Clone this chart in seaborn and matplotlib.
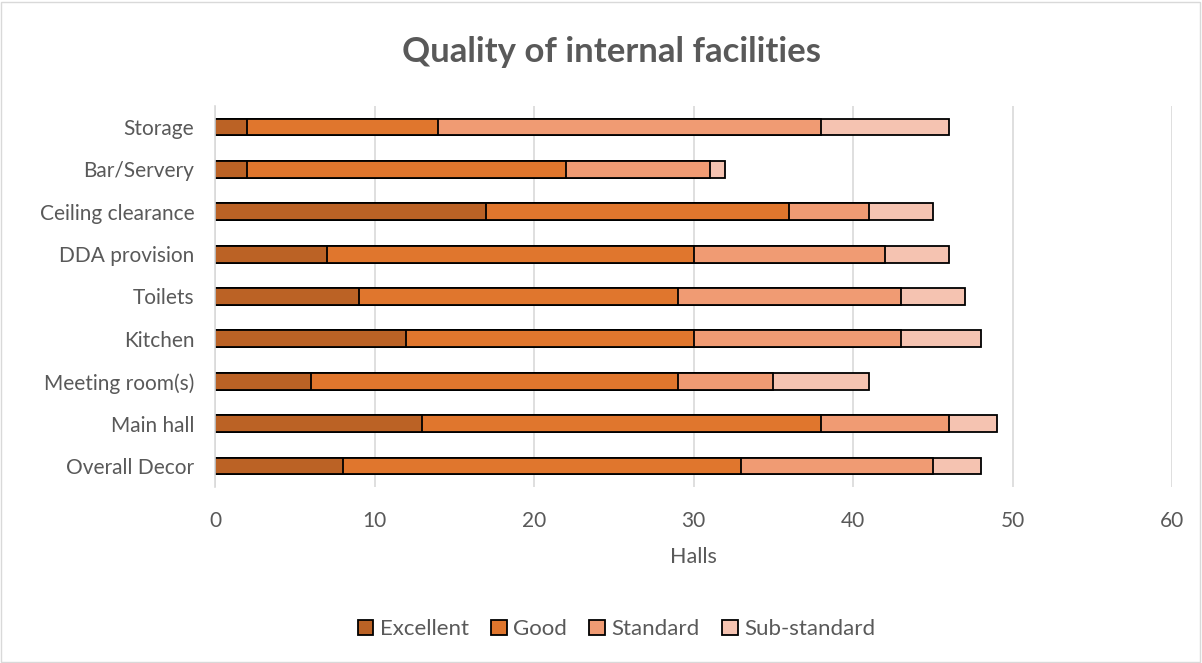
import numpy as np
import pandas as pd
import matplotlib
matplotlib.use("Agg")
import matplotlib.pyplot as plt
from matplotlib.patches import Patch, Rectangle
import seaborn as sns

# Facilities, top to bottom
categories = ["Storage", "Bar/Servery", "Ceiling clearance", "DDA provision",
              "Toilets", "Kitchen", "Meeting room(s)", "Main hall", "Overall Decor"]

excellent = [2, 2, 17, 7, 9, 12, 6, 13, 8]
good = [12, 20, 19, 23, 20, 18, 23, 25, 25]
standard = [24, 9, 5, 12, 14, 13, 6, 8, 12]
sub_standard = [8, 1, 4, 4, 4, 5, 6, 3, 3]

series_names = ["Excellent", "Good", "Standard", "Sub-standard"]
series_colors = ["#BB6225", "#E0762D", "#F09B73", "#F5C3B1"]
x_ticks = [0, 10, 20, 30, 40, 50, 60]

sns.set_theme(style="white")
plt.rcParams["font.family"] = ["Lato", "DejaVu Sans"]
text_color = "#595959"

df = pd.DataFrame({"facility": categories, "Excellent": excellent, "Good": good,
                   "Standard": standard, "Sub-standard": sub_standard})
cum = df[series_names].cumsum(axis=1)

fig = plt.figure(figsize=(12.02, 6.63), dpi=100)
ax = fig.add_axes([0.1789, 0.2652, 0.7962, 0.5752])

# Stacked bars: draw cumulative totals from the outermost segment inward
for name, color in reversed(list(zip(series_names, series_colors))):
    sns.barplot(x=cum[name], y=df["facility"], orient="h", ax=ax, color=color,
                width=0.4, edgecolor="black", linewidth=1.3, saturation=1)

ax.set_xlim(0, 60)
ax.set_xticks(x_ticks)
ax.set_xticklabels([str(t) for t in x_ticks])
ax.grid(axis="x", color="#D9D9D9", linewidth=1.2)
ax.set_axisbelow(True)
for side in ["top", "right", "bottom"]:
    ax.spines[side].set_visible(False)
ax.spines["left"].set_color("#D9D9D9")
ax.spines["left"].set_linewidth(1.2)
ax.tick_params(axis="y", length=0, labelsize=15, colors=text_color, pad=15)
ax.tick_params(axis="x", length=0, labelsize=15, colors=text_color, pad=17)
ax.set_ylabel("")
ax.set_xlabel("Halls", fontsize=15.5, color=text_color, labelpad=12)

fig.suptitle("Quality of internal facilities", x=0.509, y=0.945,
             fontsize=25, fontweight="bold", color=text_color)

handles = [Patch(facecolor=c, edgecolor="black", linewidth=1.3, label=n)
           for n, c in zip(series_names, series_colors)]
fig.legend(handles=handles, loc="center", bbox_to_anchor=(0.513, 0.051), ncol=4,
           frameon=False, fontsize=16, labelcolor=text_color,
           handlelength=0.7, handleheight=0.7, handletextpad=0.3, columnspacing=1.0)

# Chart-area border
fig.patches.append(Rectangle((0.001, 0.002), 0.997, 0.995, transform=fig.transFigure,
                             fill=False, edgecolor="#D9D9D9", linewidth=1))

fig.savefig("out.png", dpi=100)
